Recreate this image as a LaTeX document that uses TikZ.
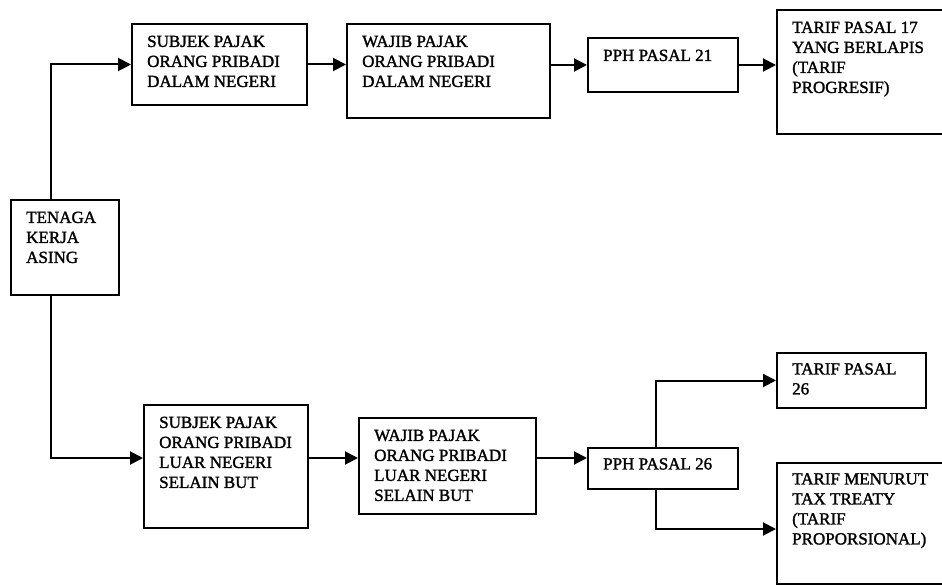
\documentclass[tikz,border=0pt]{standalone}
\usepackage{fontspec}
\setmainfont{Liberation Serif}[AutoFakeBold=1.6]
\usetikzlibrary{arrows.meta}
\tikzstyle{box} = [draw, line width=2pt, anchor=north west, inner sep=0pt]
\tikzstyle{txt} = [anchor=north west, align=left, inner xsep=16pt, inner ysep=12.5pt, font=\bfseries\fontsize{17}{20}\selectfont]
\tikzstyle{arrow} = [line width=2pt, -{Triangle[length=13pt,width=13pt]}]

\begin{document}
\begin{tikzpicture}[x=1pt, y=-1pt]
\useasboundingbox (0,0) rectangle (942,585);

% Nodes
\node (tka) [box, minimum width=108pt, minimum height=95pt, label={[txt]north west:{TENAGA\\KERJA\\ASING}}] at (10,199) {};
\node (sdn) [box, minimum width=175pt, minimum height=81pt, label={[txt]north west:{SUBJEK PAJAK\\ORANG PRIBADI\\DALAM NEGERI}}] at (131,23) {};
\node (wdn) [box, minimum width=203pt, minimum height=94pt, label={[txt]north west:{WAJIB PAJAK\\ORANG PRIBADI\\DALAM NEGERI}}] at (346,23) {};
\node (pph21) [box, minimum width=150pt, minimum height=54pt, label={[txt]north west:{PPH PASAL 21}}] at (587,37) {};
\node (t17) [box, minimum width=200pt, minimum height=124pt, label={[txt]north west:{TARIF PASAL 17\\YANG BERLAPIS\\(TARIF\\PROGRESIF)}}] at (776,9) {};
\node (sln) [box, minimum width=164pt, minimum height=123pt, label={[txt]north west:{SUBJEK PAJAK\\ORANG PRIBADI\\LUAR NEGERI\\SELAIN BUT}}] at (143,404) {};
\node (wln) [box, minimum width=177pt, minimum height=96pt, label={[txt]north west:{WAJIB PAJAK\\ORANG PRIBADI\\LUAR NEGERI\\SELAIN BUT}}] at (358,417) {};
\node (pph26) [box, minimum width=150pt, minimum height=41pt, label={[txt, inner ysep=11pt]north west:{PPH PASAL 26}}] at (587,447) {};
\node (t26) [box, minimum width=149pt, minimum height=55pt, label={[txt, inner ysep=11pt]north west:{TARIF PASAL\\26}}] at (776,352) {};
\node (ttt) [box, minimum width=200pt, minimum height=121pt, label={[txt, inner ysep=11pt]north west:{TARIF MENURUT\\TAX TREATY\\(TARIF\\PROPORSIONAL)}}] at (776,462) {};
\coordinate (lowrow) at ([yshift=8.5pt]sln.west);

% Arrows
\draw [arrow] ([xshift=41pt]tka.north west) |- (sdn.west);
\draw [arrow] ([xshift=41pt]tka.south west) |- (lowrow);
\draw [arrow] (sdn.east) -- (sdn.east -| wdn.west);
\draw [arrow] (wdn.east |- pph21.west) -- (pph21.west);
\draw [arrow] (pph21.east) -- (pph21.east -| t17.west);
\draw [arrow] (lowrow -| sln.east) -- (lowrow -| wln.west);
\draw [arrow] (lowrow -| wln.east) -- (lowrow -| pph26.west);
\draw [arrow] ([xshift=-7pt]pph26.north) |- (t26.west);
\draw [arrow] ([xshift=-7pt]pph26.south) |- ([yshift=-5.5pt]ttt.west);

\end{tikzpicture}
\end{document}
